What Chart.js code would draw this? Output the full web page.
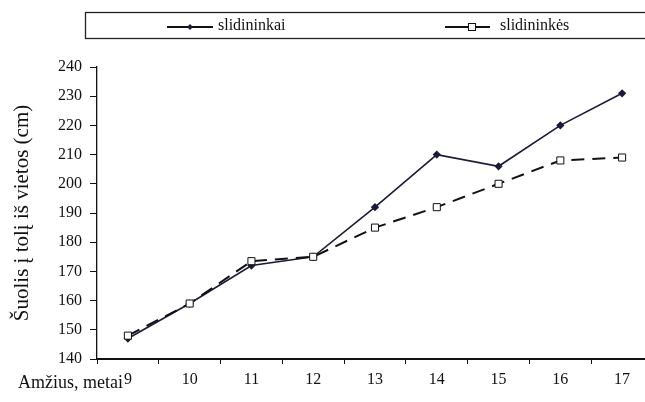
<!DOCTYPE html>
<html>
<head>
<meta charset="utf-8">
<script src="https://cdn.jsdelivr.net/npm/chart.js@4"></script>
<style>
  html, body { margin: 0; padding: 0; background: #fff; overflow: hidden; }
  #wrap { width: 660px; height: 402px; }
</style>
</head>
<body>
<div id="wrap"><canvas id="grafikas" width="660" height="402"></canvas></div>
<script>
// amzius (metai)
const amzius = ['9', '10', '11', '12', '13', '14', '15', '16', '17'];
// suolis i toli is vietos (cm)
const slidininkai = [147, 159, 172, 175, 192, 210, 206, 220, 231];
const slidininkes = [148, 159, 173.5, 175, 185, 192, 200, 208, 209];
const yTicks = [140, 150, 160, 170, 180, 190, 200, 210, 220, 230, 240];

const serif = '"Liberation Serif", "Times New Roman", serif';

// legenda su remeliu ir "Amžius, metai" uzrasas prie x asies
const piesiniai = {
  id: 'piesiniai',
  afterDraw(chart) {
    const ctx = chart.ctx;
    ctx.save();
    // legendos remelis
    ctx.strokeStyle = '#222';
    ctx.lineWidth = 1.3;
    ctx.strokeRect(85.5, 12.5, 600, 26);

    ctx.font = '16px ' + serif;
    ctx.fillStyle = '#111';
    ctx.textBaseline = 'middle';

    // slidininkai
    ctx.strokeStyle = '#111';
    ctx.lineWidth = 1.8;
    ctx.beginPath(); ctx.moveTo(167, 27); ctx.lineTo(213, 27); ctx.stroke();
    ctx.fillStyle = '#1a1a3a';
    ctx.beginPath();
    ctx.moveTo(190, 24); ctx.lineTo(193, 27); ctx.lineTo(190, 30); ctx.lineTo(187, 27);
    ctx.closePath(); ctx.fill();
    ctx.fillStyle = '#111';
    ctx.fillText('slidininkai', 218, 26);

    // slidininkes
    ctx.strokeStyle = '#111';
    ctx.lineWidth = 2;
    ctx.beginPath(); ctx.moveTo(445, 27); ctx.lineTo(468, 27); ctx.moveTo(476, 27); ctx.lineTo(490, 27); ctx.stroke();
    ctx.lineWidth = 1;
    ctx.fillStyle = '#fff';
    ctx.fillRect(468.5, 23.5, 7, 7);
    ctx.strokeRect(468.5, 23.5, 7, 7);
    ctx.fillStyle = '#111';
    ctx.fillText('slidininkės', 500, 26);

    // x asies uzrasas
    const x = chart.scales.x;
    const px = x.getPixelForValue(0);
    ctx.font = '18px ' + serif;
    ctx.textAlign = 'right';
    ctx.fillText('Amžius, metai', px - 5, 383);
    ctx.restore();
  }
};

const ctx = document.getElementById('grafikas').getContext('2d');
const grafikas = new Chart(ctx, {
  type: 'line',
  data: {
    labels: amzius,
    datasets: [
      {
        label: 'slidininkės',
        data: slidininkes,
        borderColor: '#111',
        borderWidth: 2,
        borderDash: [13, 8],
        pointStyle: 'rect',
        pointRadius: 5,
        pointBackgroundColor: '#fff',
        pointBorderColor: '#111',
        pointBorderWidth: 1,
        tension: 0
      },
      {
        label: 'slidininkai',
        data: slidininkai,
        borderColor: '#1a1a3a',
        borderWidth: 1.6,
        pointStyle: 'rectRot',
        pointRadius: 3,
        pointBackgroundColor: '#1a1a3a',
        pointBorderColor: '#1a1a3a',
        tension: 0
      }
    ]
  },
  options: {
    responsive: false,
    animation: false,
    layout: { padding: { top: 67, right: 7, bottom: 0, left: 0 } },
    plugins: { legend: { display: false }, tooltip: { enabled: false } },
    scales: {
      x: {
        offset: true,
        grid: { offset: true, drawOnChartArea: false, drawTicks: true, tickLength: 5, color: '#111', tickWidth: 1 },
        border: { color: '#111', width: 2 },
        ticks: { color: '#111', font: { family: serif, size: 16 }, padding: 6, maxRotation: 0 },
        afterFit(scale) { scale.height = 43; }
      },
      y: {
        min: 140,
        max: 240,
        afterBuildTicks(scale) { scale.ticks = yTicks.map(v => ({ value: v })); },
        grid: { drawOnChartArea: false, drawTicks: true, tickLength: 7, color: '#111' },
        border: { color: '#111', width: 1.3 },
        ticks: { color: '#111', font: { family: serif, size: 16 }, padding: 8 },
        title: { display: true, text: 'Šuolis į tolį iš vietos (cm)', color: '#111', font: { family: serif, size: 21 }, padding: { top: 10, bottom: 4 } },
        afterFit(scale) { scale.width = 97; }
      }
    }
  },
  plugins: [piesiniai]
});
</script>
</body>
</html>
